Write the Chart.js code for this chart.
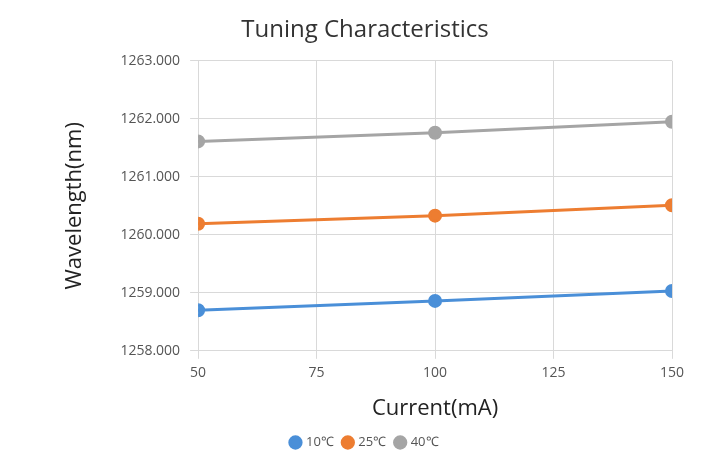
<!DOCTYPE html>
<html>
<head>
<meta charset="utf-8">
<script src="https://cdn.jsdelivr.net/npm/chart.js@4"></script>
<style>
  body { margin: 0; background: #fff; }
  #wrap { width: 725px; height: 473px; }
</style>
</head>
<body>
<div id="wrap"><canvas id="myChart"></canvas></div>
<script>
const currents = [50, 100, 150];
const seriesNames = ['10℃', '25℃', '40℃'];
const t10 = [1258.70, 1258.86, 1259.03];
const t25 = [1260.19, 1260.33, 1260.51];
const t40 = [1261.61, 1261.76, 1261.95];
const colors = ['#4a8fd8', '#ed7d31', '#a5a5a5'];

const ds = [t10, t25, t40].map((vals, i) => ({
  label: seriesNames[i],
  data: vals.map((v, j) => ({ x: currents[j], y: v })),
  borderColor: colors[i],
  backgroundColor: colors[i],
  borderWidth: 3,
  pointRadius: 5.5,
  pointHoverRadius: 5.5
}));

new Chart(document.getElementById('myChart').getContext('2d'), {
  type: 'line',
  data: { datasets: ds },
  options: {
    responsive: true,
    maintainAspectRatio: false,
    animation: false,
    layout: { padding: { left: 58, right: 53, top: 10, bottom: 14 } },
    plugins: {
      title: {
        display: true,
        text: 'Tuning Characteristics',
        color: '#333',
        font: { family: 'Open Sans', size: 24, weight: 'normal' },
        padding: { top: 6, bottom: 16 }
      },
      legend: {
        position: 'bottom',
        labels: {
          usePointStyle: true,
          pointStyle: 'circle',
          boxWidth: 8,
          boxHeight: 8,
          color: '#555',
          font: { family: 'Open Sans', size: 13 }
        }
      },
      tooltip: { enabled: false }
    },
    scales: {
      x: {
        type: 'linear',
        min: 50, max: 150,
        ticks: { stepSize: 25, color: '#555', font: { family: 'Open Sans', size: 14 }, padding: 6 },
        grid: { color: '#d9d9d9' },
        border: { color: '#d9d9d9' },
        title: { display: true, text: 'Current(mA)', color: '#222', font: { family: 'Open Sans', size: 22 }, padding: { top: 8 } }
      },
      y: {
        min: 1258, max: 1263,
        ticks: { stepSize: 1, color: '#555', font: { family: 'Open Sans', size: 14 }, padding: 10,
          callback: v => v.toFixed(3) },
        grid: { color: '#d9d9d9' },
        border: { display: false },
        title: { display: true, text: 'Wavelength(nm)', color: '#222', font: { family: 'Open Sans', size: 22 }, padding: { bottom: 22 } }
      }
    }
  }
});
</script>
</body>
</html>
